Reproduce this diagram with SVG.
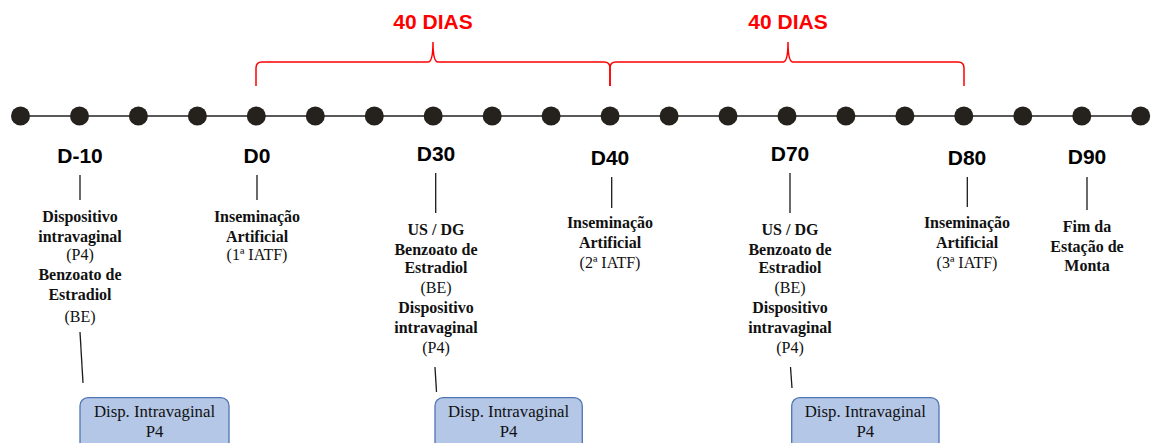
<svg xmlns="http://www.w3.org/2000/svg" width="1151" height="443" viewBox="0 0 1151 443">
<style>
.day{font-family:"Liberation Sans",Arial,sans-serif;font-weight:bold;font-size:21px;fill:#000;text-anchor:middle}
.dias{font-family:"Liberation Sans",Arial,sans-serif;font-weight:bold;font-size:21px;fill:#ff0000;text-anchor:middle}
.b{font-family:"Liberation Serif","Times New Roman",serif;font-weight:bold;font-size:16px;fill:#111;text-anchor:middle}
.r{font-family:"Liberation Serif","Times New Roman",serif;font-size:16px;fill:#111;text-anchor:middle}
.bx{font-family:"Liberation Serif","Times New Roman",serif;font-size:16.8px;fill:#111;text-anchor:middle}
.tick{stroke:#1a1a1a;stroke-width:1.3;fill:none}
.brace{stroke:#ff0000;stroke-width:1.5;fill:none}
.box{fill:#b4c7e7;stroke:#4f74b3;stroke-width:1.3}
.dot{fill:#25221e}
</style>
<rect width="1151" height="443" fill="#fff"/>
<g id="timeline">
<line x1="20" y1="116" x2="1141" y2="116" stroke="#595959" stroke-width="2"/>
<g class="dot">
<circle cx="20.5" cy="116" r="9.5"/><circle cx="79.5" cy="116" r="9.5"/><circle cx="138.4" cy="116" r="9.5"/><circle cx="197.4" cy="116" r="9.5"/><circle cx="256.3" cy="116" r="9.5"/><circle cx="315.3" cy="116" r="9.5"/><circle cx="374.3" cy="116" r="9.5"/><circle cx="433.2" cy="116" r="9.5"/><circle cx="492.2" cy="116" r="9.5"/><circle cx="551.1" cy="116" r="9.5"/><circle cx="610.1" cy="116" r="9.5"/><circle cx="669.1" cy="116" r="9.5"/><circle cx="728" cy="116" r="9.5"/><circle cx="787" cy="116" r="9.5"/><circle cx="845.9" cy="116" r="9.5"/><circle cx="904.9" cy="116" r="9.5"/><circle cx="963.8" cy="116" r="9.5"/><circle cx="1022.8" cy="116" r="9.5"/><circle cx="1081.8" cy="116" r="9.5"/><circle cx="1140.7" cy="116" r="9.5"/>
</g>
</g>
<g id="braces">
<path class="brace" d="M256,86 L256,68 Q256,62 262,62 L428,62 Q433,62 433,42 Q433,62 438,62 L604,62 Q610,62 610,68 L610,86"/>
<path class="brace" d="M610,86 L610,68 Q610,62 616,62 L783,62 Q788,62 788,42 Q788,62 793,62 L958,62 Q964,62 964,68 L964,86"/>
<text class="dias" x="433" y="29">40 DIAS</text>
<text class="dias" x="788" y="29">40 DIAS</text>
</g>
<g id="connectors">
<line class="tick" x1="80" y1="175" x2="80" y2="200"/>
<line class="tick" x1="257" y1="175" x2="257" y2="200"/>
<line class="tick" x1="435.7" y1="173" x2="435.7" y2="213"/>
<line class="tick" x1="611.7" y1="177" x2="611.7" y2="208"/>
<line class="tick" x1="790" y1="173" x2="790" y2="213"/>
<line class="tick" x1="967.3" y1="177" x2="967.3" y2="207"/>
<line class="tick" x1="1087" y1="177" x2="1087" y2="210"/>
<line class="tick" x1="80" y1="332" x2="83" y2="383"/>
<line class="tick" x1="435" y1="367" x2="436.5" y2="392"/>
<line class="tick" x1="790.5" y1="367" x2="792" y2="388"/>
</g>
<g id="d-10">
<text class="day" x="80" y="163">D-10</text>
<text class="b" x="80" y="221.7">Dispositivo</text>
<text class="b" x="80" y="241.7">intravaginal</text>
<text class="r" x="80" y="260">(P4)</text>
<text class="b" x="80" y="280">Benzoato de</text>
<text class="b" x="80" y="300">Estradiol</text>
<text class="r" x="80" y="321.7">(BE)</text>
</g>
<g id="d0">
<text class="day" x="257" y="163">D0</text>
<text class="b" x="257" y="221.7">Inseminação</text>
<text class="b" x="257" y="241.7">Artificial</text>
<text class="r" x="257" y="260">(1ª IATF)</text>
</g>
<g id="d30">
<text class="day" x="436" y="161">D30</text>
<text class="b" x="436" y="235">US / DG</text>
<text class="b" x="436" y="255">Benzoato de</text>
<text class="b" x="436" y="273.3">Estradiol</text>
<text class="r" x="436" y="293.3">(BE)</text>
<text class="b" x="436" y="313.3">Dispositivo</text>
<text class="b" x="436" y="333.3">intravaginal</text>
<text class="r" x="436" y="353.3">(P4)</text>
</g>
<g id="d40">
<text class="day" x="610" y="165">D40</text>
<text class="b" x="610" y="228.3">Inseminação</text>
<text class="b" x="610" y="248.3">Artificial</text>
<text class="r" x="610" y="268.3">(2ª IATF)</text>
</g>
<g id="d70">
<text class="day" x="790" y="161">D70</text>
<text class="b" x="790" y="235">US / DG</text>
<text class="b" x="790" y="255">Benzoato de</text>
<text class="b" x="790" y="273.3">Estradiol</text>
<text class="r" x="790" y="293.3">(BE)</text>
<text class="b" x="790" y="313.3">Dispositivo</text>
<text class="b" x="790" y="333.3">intravaginal</text>
<text class="r" x="790" y="353.3">(P4)</text>
</g>
<g id="d80">
<text class="day" x="967" y="165">D80</text>
<text class="b" x="967" y="228.3">Inseminação</text>
<text class="b" x="967" y="248.3">Artificial</text>
<text class="r" x="967" y="268.3">(3ª IATF)</text>
</g>
<g id="d90">
<text class="day" x="1087" y="164">D90</text>
<text class="b" x="1087" y="231.7">Fim da</text>
<text class="b" x="1087" y="251.7">Estação de</text>
<text class="b" x="1087" y="270.7">Monta</text>
</g>
<g id="box1">
<rect class="box" x="80" y="397.7" width="149" height="60" rx="8"/>
<text class="bx" x="154.5" y="416.7">Disp. Intravaginal</text>
<text class="bx" x="154.5" y="436.7">P4</text>
</g>
<g id="box2">
<rect class="box" x="435" y="397.7" width="147.3" height="60" rx="8"/>
<text class="bx" x="508.6" y="416.7">Disp. Intravaginal</text>
<text class="bx" x="508.6" y="436.7">P4</text>
</g>
<g id="box3">
<rect class="box" x="791.7" y="397.7" width="147.3" height="60" rx="8"/>
<text class="bx" x="865.3" y="416.7">Disp. Intravaginal</text>
<text class="bx" x="865.3" y="436.7">P4</text>
</g>
</svg>
